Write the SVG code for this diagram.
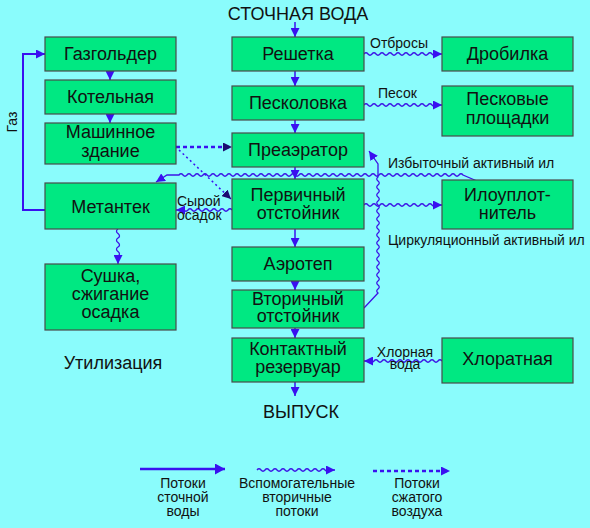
<svg xmlns="http://www.w3.org/2000/svg" width="590" height="528" viewBox="0 0 590 528">
<style>
text{font-family:"Liberation Sans",Arial,sans-serif;fill:#111}
.b rect{fill:#00E882;stroke:#4a4a4a;stroke-width:1.2}
.t{font-size:18px;text-anchor:middle}
.s{font-size:14px}
.m{text-anchor:middle}
.sol{fill:none;stroke:#3a10f0;stroke-width:1.5}
.wv{fill:none;stroke:#3c14e6;stroke-width:1.3}
.dt{fill:none;stroke:#3a10f0;stroke-width:2.5;stroke-dasharray:4,3}
</style>
<defs>
<marker id="a" markerUnits="userSpaceOnUse" markerWidth="9" markerHeight="9" refX="9" refY="4.5" orient="auto"><path d="M0,0L9,4.5L0,9z" fill="#3a10f0"/></marker>
<marker id="L" markerUnits="userSpaceOnUse" markerWidth="10" markerHeight="11" refX="10" refY="5.5" orient="auto"><path d="M0,0L10,5.5L0,11z" fill="#3a10f0"/></marker>
<marker id="d" markerUnits="userSpaceOnUse" markerWidth="9" markerHeight="9" refX="9" refY="4.5" orient="auto"><path d="M0,0L9,4.5L0,9z" fill="#1c0a70"/></marker>
</defs>
<rect width="590" height="528" fill="#8AFCFC"/>

<g id="connectors">
<path class="sol" d="M295,22V37" marker-end="url(#a)"/>
<path class="sol" d="M295,71V86" marker-end="url(#a)"/>
<path class="sol" d="M295,120V133" marker-end="url(#a)"/>
<path class="sol" d="M295,167V179" marker-end="url(#a)"/>
<path class="sol" d="M295,229V247" marker-end="url(#a)"/>
<path class="sol" d="M295,281V290" marker-end="url(#a)"/>
<path class="sol" d="M295,328V338" marker-end="url(#a)"/>
<path class="sol" d="M295,382V396" marker-end="url(#a)"/>
<path class="sol" d="M110,71V80" marker-end="url(#a)"/>
<path class="sol" d="M110,114V123" marker-end="url(#a)"/>
<path class="sol" style="stroke-width:2" d="M45,210H23V54H45" marker-end="url(#a)"/>
<path class="wv" d="M364,54q2,-2.5 4,0t4,0 4,0 4,0 4,0 4,0 4,0 4,0 4,0 4,0 4,0 4,0 4,0 4,0 4,0 4,0 4,0 4,0L442,54" marker-end="url(#a)"/>
<path class="wv" d="M364,105q2,-2.5 4,0t4,0 4,0 4,0 4,0 4,0 4,0 4,0 4,0 4,0 4,0 4,0 4,0 4,0 4,0 4,0 4,0 4,0L442,105" marker-end="url(#a)"/>
<path class="wv" d="M364,205q2,-2.5 4,0t4,0 4,0 4,0 4,0 4,0 4,0 4,0 4,0 4,0 4,0 4,0 4,0 4,0 4,0 4,0 4,0 4,0L442,205" marker-end="url(#a)"/>
<path class="wv" d="M232,210q-2,-2.5 -4,0t-4,0 -4,0 -4,0 -4,0 -4,0 -4,0 -4,0 -4,0 -4,0 -4,0 -4,0L176,210" marker-end="url(#a)"/>
<path class="wv" d="M442,361q-2,-2.5 -4,0t-4,0 -4,0 -4,0 -4,0 -4,0 -4,0 -4,0 -4,0 -4,0 -4,0 -4,0 -4,0 -4,0 -4,0 -4,0 -4,0 -4,0L364,361" marker-end="url(#a)"/>
<path class="wv" d="M118,229q-3,2 0,4.5t0,4.5 0,4.5 0,4.5 0,4.5 0,4.5L118,264" marker-end="url(#a)"/>
<path class="wv" d="M477,181L463,175q-2,-2.5 -4,0t-4,0 -4,0 -4,0 -4,0 -4,0 -4,0 -4,0 -4,0 -4,0 -4,0 -4,0 -4,0 -4,0 -4,0 -4,0 -4,0 -4,0 -4,0 -4,0 -4,0 -4,0 -4,0 -4,0 -4,0 -4,0 -4,0 -4,0 -4,0 -4,0 -4,0 -4,0 -4,0 -4,0 -4,0 -4,0 -4,0 -4,0 -4,0 -4,0 -4,0 -4,0 -4,0 -4,0 -4,0 -4,0 -4,0 -4,0 -4,0 -4,0 -4,0 -4,0 -4,0 -4,0 -4,0 -4,0 -4,0 -4,0 -4,0 -4,0 -4,0 -4,0 -4,0 -4,0 -4,0 -4,0 -4,0 -4,0 -4,0 -4,0 -4,0L167,175L156,182" marker-end="url(#a)"/>
<path class="wv" d="M364,308L378,293q-2.5,-2 0,-4t0,-4 0,-4 0,-4 0,-4 0,-4 0,-4 0,-4 0,-4 0,-4 0,-4 0,-4 0,-4 0,-4 0,-4 0,-4 0,-4 0,-4 0,-4 0,-4 0,-4 0,-4 0,-4 0,-4 0,-4 0,-4 0,-4 0,-4 0,-4L378,164L369,151" marker-end="url(#a)"/>
<path class="dt" d="M176,147H232" marker-end="url(#d)"/>
<path class="dt" style="stroke-width:1.5;stroke-dasharray:2,3" d="M179,150L231,199" marker-end="url(#d)"/>
</g>

<g id="n-gazgolder" class="b"><rect x="45" y="37" width="131" height="34"/><text class="t" x="110.5" y="60">Газгольдер</text></g>
<g id="n-kotelnaya" class="b"><rect x="45" y="80" width="131" height="34"/><text class="t" x="110.5" y="103">Котельная</text></g>
<g id="n-mashinnoe" class="b"><rect x="45" y="123" width="131" height="41"/><text class="t" x="110.5" y="138">Машинное</text><text class="t" x="110.5" y="157">здание</text></g>
<g id="n-metantek" class="b"><rect x="45" y="183" width="131" height="46"/><text class="t" x="110.5" y="213">Метантек</text></g>
<g id="n-sushka" class="b"><rect x="45" y="264" width="131" height="66"/><text class="t" x="110.5" y="282">Сушка,</text><text class="t" x="110.5" y="300">сжигание</text><text class="t" x="110.5" y="318">осадка</text></g>
<g id="n-reshetka" class="b"><rect x="232" y="37" width="132" height="34"/><text class="t" x="298" y="60">Решетка</text></g>
<g id="n-peskolovka" class="b"><rect x="232" y="86" width="132" height="34"/><text class="t" x="298" y="109">Песколовка</text></g>
<g id="n-preaerator" class="b"><rect x="232" y="133" width="132" height="34"/><text class="t" x="298" y="156">Преаэратор</text></g>
<g id="n-pervichny" class="b"><rect x="232" y="179" width="132" height="50"/><text class="t" x="298" y="201">Первичный</text><text class="t" x="298" y="219">отстойник</text></g>
<g id="n-aerotep" class="b"><rect x="232" y="247" width="132" height="34"/><text class="t" x="298" y="270">Аэротеп</text></g>
<g id="n-vtorichny" class="b"><rect x="232" y="290" width="132" height="38"/><text class="t" x="298" y="305">Вторичный</text><text class="t" x="298" y="322">отстойник</text></g>
<g id="n-kontaktny" class="b"><rect x="232" y="338" width="132" height="44"/><text class="t" x="298" y="355">Контактный</text><text class="t" x="298" y="373">резервуар</text></g>
<g id="n-drobilka" class="b"><rect x="442" y="37" width="131" height="34"/><text class="t" x="507.5" y="60">Дробилка</text></g>
<g id="n-peskovye" class="b"><rect x="442" y="86" width="131" height="50"/><text class="t" x="507.5" y="105">Песковые</text><text class="t" x="507.5" y="124">площадки</text></g>
<g id="n-iloupl" class="b"><rect x="442" y="180" width="131" height="49"/><text class="t" x="507.5" y="201">Илоуплот-</text><text class="t" x="507.5" y="219">нитель</text></g>
<g id="n-khloratnaya" class="b"><rect x="442" y="338" width="131" height="45"/><text class="t" x="507.5" y="365">Хлоратная</text></g>

<g id="labels">
<text class="t" x="298" y="20">СТОЧНАЯ ВОДА</text>
<text class="t" x="301" y="418">ВЫПУСК</text>
<text class="t" x="113" y="369">Утилизация</text>
<text class="s m" transform="translate(17,122) rotate(-90)">Газ</text>
<text class="s" x="370" y="48">Отбросы</text>
<text class="s" x="378" y="98">Песок</text>
<text class="s" x="388" y="168">Избыточный активный ил</text>
<text class="s" x="388" y="245">Циркуляционный активный ил</text>
<text class="s" x="177" y="206">Сырой</text>
<text class="s" x="177" y="220">осадок</text>
<text class="s m" x="405" y="357">Хлорная</text>
<text class="s m" x="405" y="369">вода</text>
</g>

<g id="legend">
<path class="sol" style="stroke-width:2.5" d="M140,469H225" marker-end="url(#L)"/>
<path class="wv" d="M257,470q2,-2.5 4,0t4,0 4,0 4,0 4,0 4,0 4,0 4,0 4,0 4,0 4,0 4,0 4,0 4,0 4,0 4,0 4,0 4,0L335,470" marker-end="url(#a)"/>
<path class="dt" d="M373,471H450" marker-end="url(#a)"/>
<text class="s m" x="183" y="488">Потоки</text>
<text class="s m" x="183" y="502">сточной</text>
<text class="s m" x="183" y="516">воды</text>
<text class="s m" x="297" y="488">Вспомогательные</text>
<text class="s m" x="297" y="502">вторичные</text>
<text class="s m" x="297" y="516">потоки</text>
<text class="s m" x="417" y="488">Потоки</text>
<text class="s m" x="417" y="502">сжатого</text>
<text class="s m" x="417" y="516">воздуха</text>
</g>
</svg>
